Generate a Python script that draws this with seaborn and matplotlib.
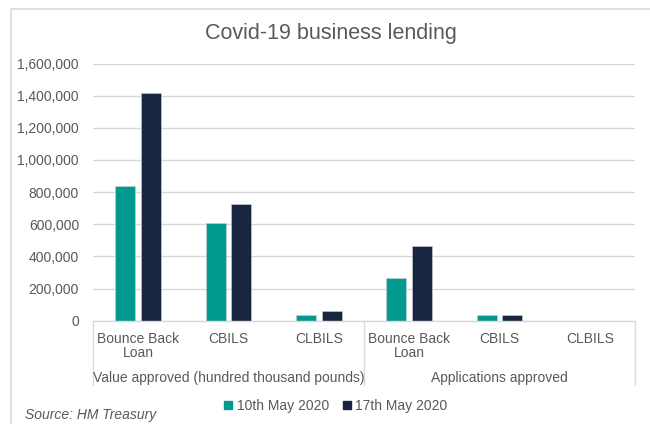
import matplotlib
matplotlib.use("Agg")
import matplotlib.pyplot as plt
import matplotlib.transforms as mtransforms
from matplotlib.lines import Line2D
from matplotlib.patches import Rectangle
from matplotlib.ticker import FuncFormatter
import seaborn as sns
import pandas as pd

# ---- data ----
bar_keys = ["V-BBL", "V-CBILS", "V-CLBILS", "A-BBL", "A-CBILS", "A-CLBILS"]
tick_labels = ["Bounce Back\nLoan", "CBILS", "CLBILS", "Bounce Back\nLoan", "CBILS", "CLBILS"]
group_labels = ["Value approved (hundred thousand pounds)", "Applications approved"]
series_names = ["10th May 2020", "17th May 2020"]
values_10may = [835000, 608000, 35000, 266000, 34000, 40]
values_17may = [1418000, 728000, 58000, 465000, 38000, 100]
yticks = [0, 200000, 400000, 600000, 800000, 1000000, 1200000, 1400000, 1600000]

colors = ["#009a8e", "#172540"]
text_color = "#595959"
grid_color = "#d9d9d9"

df = pd.DataFrame({
    "bar": bar_keys * 2,
    "value": values_10may + values_17may,
    "series": [series_names[0]] * len(bar_keys) + [series_names[1]] * len(bar_keys),
})

sns.set_theme(style="white")
plt.rcParams["font.family"] = ["Liberation Sans", "DejaVu Sans"]

fig = plt.figure(figsize=(6.5, 4.24), dpi=100)
ax = fig.add_axes([93 / 650, 1 - 320.7 / 424, (635 - 93) / 650, (320.7 - 63.5) / 424])

sns.barplot(data=df, x="bar", y="value", hue="series", order=bar_keys,
            hue_order=series_names, palette=colors, saturation=1, width=0.57, gap=0.23,
            edgecolor="#cfd3d8", linewidth=0.4, ax=ax, legend=False)

ax.set_ylim(0, 1600000)
ax.set_xlim(-0.5, 5.5)
ax.set_yticks(yticks)
ax.yaxis.set_major_formatter(FuncFormatter(lambda v, p: f"{int(v):,}"))
ax.grid(axis="y", color=grid_color, linewidth=1.0)
ax.set_axisbelow(True)
for s in ["left", "right", "top"]:
    ax.spines[s].set_visible(False)
ax.spines["bottom"].set_color(grid_color)
ax.spines["bottom"].set_linewidth(1.0)
ax.set_xlabel("")
ax.set_ylabel("")
ax.set_xticks(range(len(bar_keys)))
ax.set_xticklabels(tick_labels, linespacing=1.05)
ax.tick_params(axis="x", length=0, pad=8, labelsize=10, labelcolor=text_color)
ax.tick_params(axis="y", length=0, pad=10, labelsize=10, labelcolor=text_color)

# separators of the two-level category axis
trans = mtransforms.blended_transform_factory(ax.transData, ax.transAxes)
for xv in [-0.5, 2.5, 5.5]:
    ax.plot([xv, xv], [0, -0.25], transform=trans, color=grid_color,
            linewidth=1.0, clip_on=False)
for gi, lab in enumerate(group_labels):
    ax.text(gi * 3 + 1, -0.222, lab, transform=trans, ha="center", va="center",
            fontsize=10, color=text_color)

# title
fig.text(331 / 650, 1 - 33 / 424, "Covid-19 business lending", ha="center",
         va="center", fontsize=15.5, color=text_color)

# legend
handles = [Line2D([], [], marker="s", linestyle="none", markersize=6,
                  markerfacecolor=c, markeredgecolor=c) for c in colors]
fig.legend(handles, series_names, loc="center", bbox_to_anchor=(336 / 650, 1 - 406 / 424),
           ncol=2, frameon=False, fontsize=10, handlelength=0.6, handletextpad=0.3,
           columnspacing=1.0, labelcolor=text_color)

# source
fig.text(25 / 650, 1 - 415 / 424, "Source: HM Treasury", ha="left", va="center",
         fontsize=10, style="italic", color=text_color)

# outer chart border
fig.patches.append(Rectangle((11 / 650, -0.2), 1.2, 1 - 8.7 / 424 + 0.2,
                             transform=fig.transFigure, fill=False,
                             edgecolor=grid_color, linewidth=1.2))

fig.savefig("out.png", dpi=100, facecolor="white")
